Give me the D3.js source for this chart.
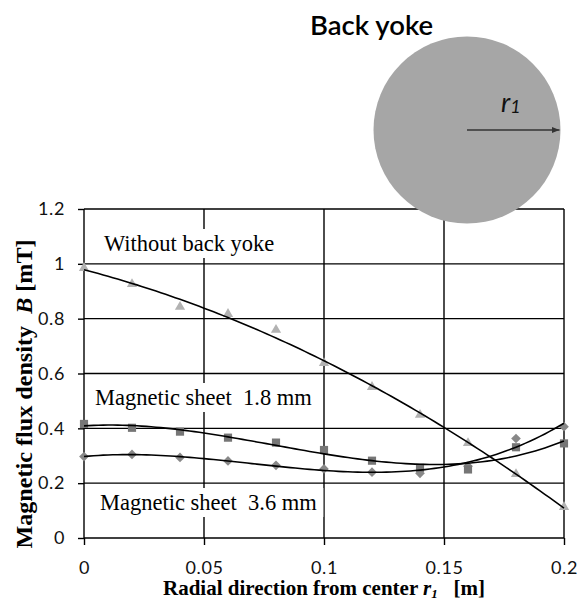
<!DOCTYPE html>
<html lang="en">
<head>
<meta charset="UTF-8">
<title>Magnetic flux density vs radial direction</title>
<script src="https://cdn.jsdelivr.net/npm/d3@7/dist/d3.min.js"></script>
<style>
  body { margin: 0; background: #fff; }
  text { white-space: pre; }
</style>
</head>
<body>
<div id="container"></div>
<script>
const width = 577;
const height = 603;
const margin = { top: 209, left: 84, right: 13, bottom: 65 };

// data
const radius = [0, 0.02, 0.04, 0.06, 0.08, 0.1, 0.12, 0.14, 0.16, 0.18, 0.2];
const withoutYoke = [0.985, 0.926, 0.843, 0.817, 0.759, 0.638, 0.551, 0.449, 0.346, 0.233, 0.113];
const sheet18 = [0.416, 0.402, 0.388, 0.366, 0.348, 0.321, 0.282, 0.256, 0.250, 0.331, 0.345];
const sheet36 = [0.297, 0.305, 0.294, 0.281, 0.265, 0.252, 0.240, 0.236, 0.262, 0.363, 0.406];
const xTicks = [0, 0.05, 0.1, 0.15, 0.2];
const yTicks = [0, 0.2, 0.4, 0.6, 0.8, 1, 1.2];

const x = d3.scaleLinear().domain([0, 0.2]).range([margin.left, width - margin.right]);
const y = d3.scaleLinear().domain([0, 1.2]).range([height - margin.bottom, margin.top]);

const svg = d3.select('#container').append('svg')
    .attr('width', width)
    .attr('height', height)
    .style('display', 'block');

svg.append('rect').attr('width', width).attr('height', height).attr('fill', '#fff');

// grid
const grid = svg.append('g').attr('stroke', '#000').attr('stroke-width', 1.4);
grid.selectAll('.h').data(yTicks).join('line')
    .attr('x1', x(0)).attr('x2', x(0.2))
    .attr('y1', d => y(d)).attr('y2', d => y(d));
grid.selectAll('.v').data(xTicks).join('line')
    .attr('x1', d => x(d)).attr('x2', d => x(d))
    .attr('y1', y(0)).attr('y2', y(1.2));

// axes
const gy = svg.append('g').attr('transform', `translate(${x(0)},0)`)
    .call(d3.axisLeft(y).tickValues(yTicks).tickSize(6).tickPadding(13).tickFormat(d => String(+d.toFixed(1))));
const gx = svg.append('g').attr('transform', `translate(0,${y(0)})`)
    .call(d3.axisBottom(x).tickValues(xTicks).tickSize(7).tickPadding(16).tickFormat(d => String(+d.toFixed(2))));
[gx, gy].forEach(g => {
    g.select('.domain').remove();
    g.selectAll('.tick line').attr('stroke', '#000').attr('stroke-width', 1.4);
    g.selectAll('.tick text')
        .attr('fill', '#111')
        .style('font-family', 'Lato, sans-serif')
        .style('font-size', '18px')
        .style('letter-spacing', '0.6px');
});

// in-plot labels with white boxes
function boxLabel(str, tx, ty) {
    const g = svg.append('g');
    const r = g.append('rect').attr('fill', '#fff');
    const t = g.append('text')
        .attr('x', tx).attr('y', ty)
        .style('font-family', '"Liberation Serif", serif')
        .style('font-size', '22.5px')
        .attr('fill', '#000')
        .text(str);
    const b = t.node().getBBox();
    r.attr('x', b.x - 6).attr('y', b.y - 2).attr('width', b.width + 12).attr('height', b.height + 4);
}
boxLabel('Without back yoke', 104, 251);
boxLabel('Magnetic sheet  1.8 mm', 95, 405);
boxLabel('Magnetic sheet  3.6 mm', 100, 510);

// polynomial trendline (least squares)
function polyFit(xs, ys, order) {
    const n = order + 1;
    const A = Array.from({ length: n }, () => new Array(n + 1).fill(0));
    xs.forEach((xv, k) => {
        const u = xv * 10;
        for (let i = 0; i < n; i++) {
            for (let j = 0; j < n; j++) A[i][j] += Math.pow(u, i + j);
            A[i][n] += ys[k] * Math.pow(u, i);
        }
    });
    for (let i = 0; i < n; i++) {
        let p = i;
        for (let r = i + 1; r < n; r++) if (Math.abs(A[r][i]) > Math.abs(A[p][i])) p = r;
        [A[i], A[p]] = [A[p], A[i]];
        for (let r = 0; r < n; r++) {
            if (r === i) continue;
            const f = A[r][i] / A[i][i];
            for (let c = i; c <= n; c++) A[r][c] -= f * A[i][c];
        }
    }
    const coef = A.map((row, i) => row[n] / row[i]);
    return xv => coef.reduce((s, c, i) => s + c * Math.pow(xv * 10, i), 0);
}

const line = d3.line().x(d => x(d[0])).y(d => y(d[1]));
const samples = d3.range(0, 0.2001, 0.002);

function series(values, order, marker, size, color) {
    const g = svg.append('g');
    g.selectAll('path').data(values).join('path')
        .attr('transform', (d, i) => `translate(${x(radius[i])},${y(d)})`)
        .attr('d', d3.symbol(marker, size))
        .attr('fill', color);
    return polyFit(radius, values, order);
}

const fits = [];
fits.push(series(sheet36, 3, d3.symbolDiamond2, 60, '#888888'));
fits.push(series(sheet18, 3, d3.symbolSquare2, 85, '#767676'));
fits.push(series(withoutYoke, 2, d3.symbolTriangle2, 75, '#b2b2b2'));

fits.forEach(f => {
    svg.append('path')
        .datum(samples.map(s => [s, f(s)]))
        .attr('fill', 'none')
        .attr('stroke', '#000')
        .attr('stroke-width', 1.6)
        .attr('d', line);
});

// axis titles
const yTitle = svg.append('text')
    .attr('transform', `translate(32,394) rotate(-90) scale(1.05,1)`)
    .attr('text-anchor', 'middle')
    .style('font-family', '"Liberation Serif", serif')
    .style('font-size', '23px')
    .style('font-weight', 'bold');
yTitle.append('tspan').text('Magnetic flux density  ');
yTitle.append('tspan').style('font-style', 'italic').text('B');
yTitle.append('tspan').text(' [mT]');

const xTitle = svg.append('text')
    .attr('x', 324).attr('y', 595)
    .attr('text-anchor', 'middle')
    .style('font-family', '"Liberation Serif", serif')
    .style('font-size', '21px')
    .style('font-weight', 'bold');
xTitle.append('tspan').text('Radial direction from center ');
xTitle.append('tspan').style('font-style', 'italic').text('r');
xTitle.append('tspan').style('font-style', 'italic').style('font-size', '13px').attr('dy', 3).text('1');
xTitle.append('tspan').attr('dy', -3).text('   [m]');

// back yoke sketch
const cx = 467, cy = 130, cr = 93.5;
svg.append('circle').attr('cx', cx).attr('cy', cy).attr('r', cr).attr('fill', '#a6a6a6');
svg.append('defs').append('marker')
    .attr('id', 'arrow').attr('viewBox', '0 0 10 10')
    .attr('refX', 10).attr('refY', 5)
    .attr('markerWidth', 6).attr('markerHeight', 6)
    .attr('orient', 'auto')
    .append('path').attr('d', 'M0,1 L10,5 L0,9 Z').attr('fill', '#333');
svg.append('line')
    .attr('x1', cx).attr('y1', cy).attr('x2', cx + cr - 1).attr('y2', cy)
    .attr('stroke', '#333').attr('stroke-width', 1.3)
    .attr('marker-end', 'url(#arrow)');
const rl = svg.append('text')
    .attr('x', 501).attr('y', 112)
    .style('font-family', 'Lato, sans-serif')
    .style('font-size', '27px')
    .style('font-style', 'italic')
    .attr('fill', '#111');
rl.append('tspan').text('r');
rl.append('tspan').style('font-size', '18px').attr('dy', 1).text('1');

svg.append('text')
    .attr('x', 310).attr('y', 35)
    .style('font-family', 'Lato, sans-serif')
    .style('font-size', '27.5px')
    .style('font-weight', '600')
    .attr('fill', '#000')
    .text('Back yoke');
</script>
</body>
</html>
